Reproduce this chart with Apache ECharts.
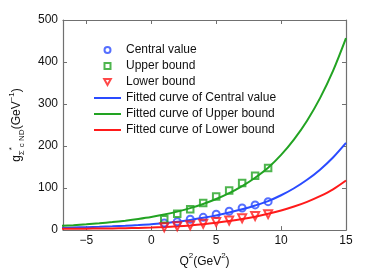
<!DOCTYPE html>
<html>
<head>
<meta charset="utf-8">
<script src="https://cdn.jsdelivr.net/npm/echarts@6/dist/echarts.min.js"></script>
<style>html,body{margin:0;padding:0;background:#fff;}#c{width:382px;height:273px;}</style>
</head>
<body>
<div id="c"></div>
<script>
// Data points (Q^2 in GeV^2)
const pointX = [1, 2, 3, 4, 5, 6, 7, 8, 9];
const centralPts = [16.7, 19.8, 25.8, 30.4, 38, 44.9, 52.5, 60, 67.7];
const upperPts = [25.8, 38.8, 49.5, 64.6, 80, 94.3, 112, 129.4, 147.7];
const lowerPts = [6.8, 9, 11.4, 15.2, 19, 22.8, 28, 33.5, 38];

// Fitted curves
const curveX = [-7, -6, -5, -4, -3, -2, -1, 0, 1, 2, 3, 4, 5, 6, 7, 8, 9, 10, 11, 12, 13, 14, 15];
const centralFit = [5.5, 6.2, 7, 7.9, 9, 10.3, 12, 14, 16.8, 20, 24.2, 29.2, 35, 41.8, 49.6, 58.6, 69, 82.9, 99.6, 119.7, 143.8, 172.8, 207.6];
const upperFit = [10, 11.8, 13.9, 16.3, 19.1, 22.5, 26.4, 31, 36.9, 43.9, 52.2, 62.2, 74, 88, 104.8, 124.7, 148.4, 179, 216, 260.4, 314, 378.7, 456.7];
const lowerFit = [2.9, 3.1, 3.4, 3.7, 4.1, 4.6, 5.2, 6, 7.3, 9, 11.2, 14, 17.5, 21.5, 26.2, 32, 38.8, 46.6, 56, 67.2, 80.7, 97, 118];

const xTicks = [-5, 0, 5, 10, 15];

const BLUE = '#2a4bff', GREEN = '#22a322', RED = '#ff1a1a';
const zip = (xs, ys) => xs.map((x, i) => [x, ys[i]]);
const font = 'Liberation Sans, Arial, sans-serif';
const axisGray = '#707070';

const chart = echarts.init(document.getElementById('c'), null, {renderer: 'canvas'});
const baseX = {
  type: 'value', min: -6.8, max: 15,
  axisLine: {show: true, onZero: false, lineStyle: {color: axisGray, width: 1.2}},
  axisTick: {show: true, inside: true, length: 4, customValues: xTicks, lineStyle: {color: axisGray}},
  splitLine: {show: false}
};
const baseY = {
  type: 'value', min: 0, max: 500, interval: 100,
  axisLine: {show: true, onZero: false, lineStyle: {color: axisGray, width: 1.2}},
  axisTick: {show: true, inside: true, length: 4, lineStyle: {color: axisGray}},
  splitLine: {show: false}
};
const LINE_ICON = 'path://M0,0L27,0L27,2L0,2Z';
chart.setOption({
  animation: false,
  backgroundColor: '#fff',
  textStyle: {fontFamily: font},
  grid: {left: 58, right: 36, top: 20, bottom: 34, containLabel: false},
  legend: {
    orient: 'vertical', left: 89, top: 39, itemWidth: 27, itemHeight: 6, itemGap: 4,
    symbolKeepAspect: true,
    textStyle: {fontFamily: font, fontSize: 12, color: '#111'},
    data: [
      {name: 'Central value', icon: 'circle', itemStyle: {color: '#fff', borderColor: BLUE, borderWidth: 2}},
      {name: 'Upper bound', icon: 'path://M0,0L10,0L10,10L0,10Z', itemStyle: {color: '#fff', borderColor: GREEN, borderWidth: 2}},
      {name: 'Lower bound', icon: 'path://M0,0L10,0L5,9Z', itemStyle: {color: '#fff', borderColor: RED, borderWidth: 2}},
      {name: 'Fitted curve of Central value', icon: LINE_ICON, itemStyle: {color: BLUE, borderWidth: 0}},
      {name: 'Fitted curve of Upper bound', icon: LINE_ICON, itemStyle: {color: GREEN, borderWidth: 0}},
      {name: 'Fitted curve of Lower bound', icon: LINE_ICON, itemStyle: {color: RED, borderWidth: 0}}
    ]
  },
  xAxis: [
    Object.assign({}, baseX, {
      position: 'bottom',
      axisLabel: {show: true, customValues: xTicks, margin: 5, fontSize: 12, color: '#111', fontFamily: font,
        formatter: v => (v < 0 ? '\u2212' + Math.abs(v) : '' + v)},
      name: '{n|Q}{p|2}{n|(GeV}{p|2}{n|)}', nameLocation: 'middle', nameGap: 20,
      nameTextStyle: {rich: {
        n: {fontSize: 12, color: '#111', fontFamily: font, lineHeight: 16, verticalAlign: 'bottom'},
        p: {fontSize: 8, color: '#111', fontFamily: font, lineHeight: 16, verticalAlign: 'top'}
      }}
    }),
    Object.assign({}, baseX, {position: 'top', axisLabel: {show: false}})
  ],
  yAxis: [
    Object.assign({}, baseY, {
      position: 'left',
      axisLabel: {show: true, margin: 5, fontSize: 12, color: '#111', fontFamily: font},
      name: '{g|g}{s|\u03A3}{t|*}{s|c}{s| ND}{n|(GeV}{t|\u22121}{n|)}',
      nameLocation: 'middle', nameRotate: 90, nameGap: 37,
      nameTextStyle: {rich: {
        g: {fontSize: 12, color: '#111', fontFamily: font, lineHeight: 18, verticalAlign: 'middle'},
        n: {fontSize: 12, color: '#111', fontFamily: font, lineHeight: 18, verticalAlign: 'middle'},
        s: {fontSize: 8, color: '#111', fontFamily: font, lineHeight: 18, verticalAlign: 'bottom'},
        t: {fontSize: 8, color: '#111', fontFamily: font, lineHeight: 18, verticalAlign: 'top'}
      }}
    }),
    Object.assign({}, baseY, {position: 'right', axisLabel: {show: false}})
  ],
  series: [
    {name: 'Fitted curve of Central value', type: 'line', data: zip(curveX, centralFit), symbol: 'none', smooth: 0.3,
      lineStyle: {color: BLUE, width: 2}, itemStyle: {color: BLUE}, z: 2},
    {name: 'Fitted curve of Upper bound', type: 'line', data: zip(curveX, upperFit), symbol: 'none', smooth: 0.3,
      lineStyle: {color: GREEN, width: 2}, itemStyle: {color: GREEN}, z: 2},
    {name: 'Fitted curve of Lower bound', type: 'line', data: zip(curveX, lowerFit), symbol: 'none', smooth: 0.3,
      lineStyle: {color: RED, width: 2}, itemStyle: {color: RED}, z: 2},
    {name: 'Central value', type: 'scatter', data: zip(pointX, centralPts), symbol: 'circle', symbolSize: 7, z: 5,
      itemStyle: {color: 'rgba(255,255,255,0)', borderColor: BLUE, borderWidth: 2}},
    {name: 'Upper bound', type: 'scatter', data: zip(pointX, upperPts), symbol: 'rect', symbolSize: 6.5, z: 5,
      itemStyle: {color: 'rgba(255,255,255,0)', borderColor: GREEN, borderWidth: 2}},
    {name: 'Lower bound', type: 'scatter', data: zip(pointX, lowerPts), symbol: 'triangle', symbolRotate: 180, symbolSize: 8, z: 5,
      itemStyle: {color: 'rgba(255,255,255,0)', borderColor: RED, borderWidth: 2}}
  ]
});
</script>
</body>
</html>
